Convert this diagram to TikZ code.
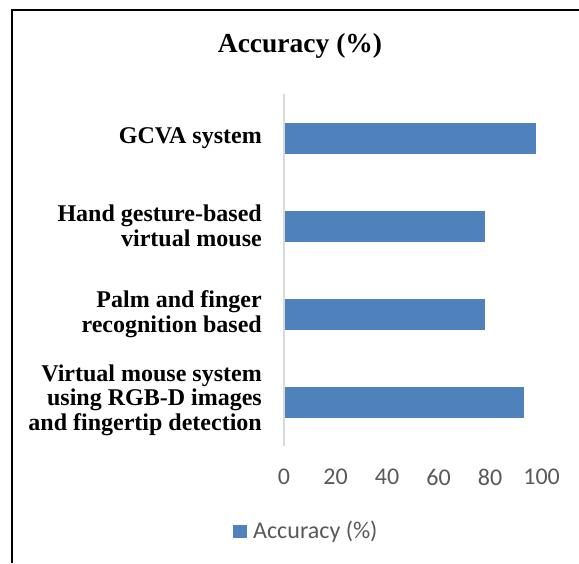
\documentclass[tikz,border=0pt]{standalone}
\usepackage{fontspec}
\setmainfont{Liberation Serif}
\newfontfamily\calib{Carlito}
\definecolor{barblue}{HTML}{4F81BD}
\definecolor{axisgrey}{HTML}{D9D9D9}
\definecolor{ticktext}{HTML}{595959}
\begin{document}
\begin{tikzpicture}[x=1pt,y=-1pt,
  catlabel/.style={anchor=east,align=right,font=\fontsize{24}{24.5}\selectfont\bfseries,inner sep=0pt},
  bar/.style={fill=barblue,draw=none},
  ticklabel/.style={font=\calib\fontsize{24}{26}\selectfont,text=ticktext,inner sep=0pt}]
\useasboundingbox (0,0) rectangle (579,563);
% frame
\draw[line width=2pt] (12,563) -- (12,10) -- (580,10);
% title
\node[font=\fontsize{27.5}{30}\selectfont\bfseries] (title) at (300,46) {Accuracy (\%)};
% value axis: x = 284 + 2.576*v
\def\sx{2.576}
\draw[axisgrey,line width=1.5pt] (284,94) -- (284,446);
% bars
\fill[bar] (285,123) rectangle ({284+98*\sx},154);
\fill[bar] (285,211) rectangle ({284+78*\sx},242);
\fill[bar] (285,299) rectangle ({284+78*\sx},330);
\fill[bar] (285,386.5) rectangle ({284+93*\sx},418);
% category labels
\node[catlabel] (c1) at (262,138.5) {GCVA system};
\node[catlabel] (c2) at (262,226) {Hand gesture-based\\virtual mouse};
\node[catlabel] (c3) at (262,314) {Palm and finger\\recognition based};
\node[catlabel] (c4) at (262,400) {Virtual mouse system\\using RGB-D images\\and fingertip detection};
% tick labels
\foreach \v in {0,20,...,100}{
  \node[ticklabel] (t\v) at ({284+\v*\sx},477) {\v};
}
% legend
\fill[barblue] (233,525) rectangle (247,538);
\node[ticklabel,anchor=west] (leg) at (253,531.5) {Accuracy (\%)};
\end{tikzpicture}
\end{document}
